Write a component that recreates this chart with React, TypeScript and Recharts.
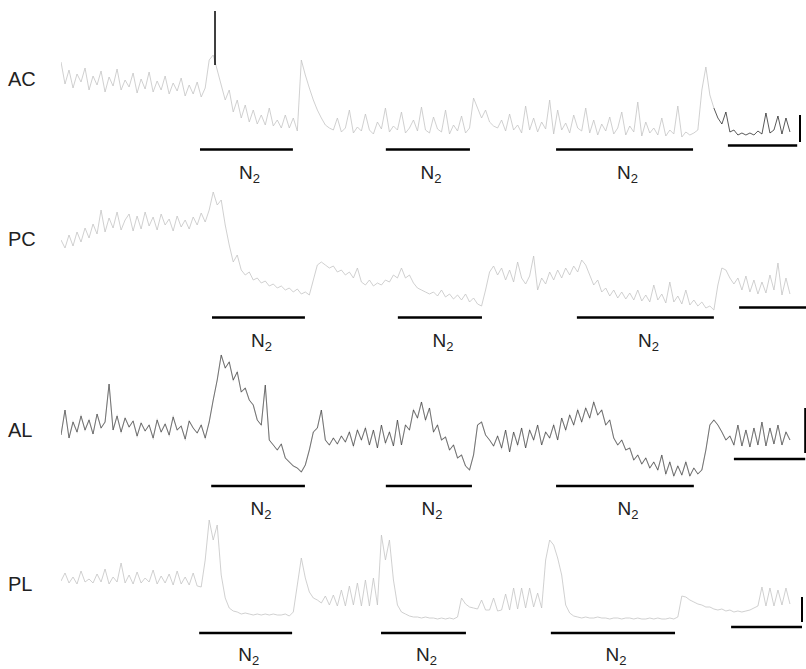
import React from 'react';
import { LineChart, Line, XAxis, YAxis, ReferenceLine } from 'recharts';

// ---- Data (time in sample index units, signal in arbitrary units) ----
const AC_TRACE = [
  118, 96, 110, 92, 106, 98, 112, 90, 104, 95, 109, 88, 103, 94, 111, 90, 100, 93, 107, 87,
  101, 91, 108, 88, 99, 90, 104, 86, 97, 89, 102, 84, 95, 86, 98, 83, 92,
  120, 125, 110, 95, 80, 90, 68, 80, 62, 75, 58, 70, 56, 65, 55, 72, 54, 60, 52, 65, 52, 62, 49,
  120, 105, 92, 80, 70, 62, 55, 52,
  50, 62, 48, 52, 70, 47, 53, 49, 66, 50, 46, 58, 51, 72, 48, 54, 50, 68, 47, 52,
  60, 49, 73, 50, 47, 63, 51, 48, 70, 46, 55, 49, 64, 47,
  52, 82, 72, 62, 70, 58, 54,
  52, 60, 49, 66, 50, 55, 47, 74, 50, 62, 48, 58, 51, 80, 46, 70, 50, 57, 47, 65,
  52, 49, 72, 47, 60, 45, 56, 49, 63, 46, 52, 68, 45, 54, 48, 78, 44, 58, 47, 52,
  45, 62, 44, 50, 46, 74, 43, 48, 45, 47,
  50, 90, 113, 85, 72,
];
const AC_TAIL_START = 163;
const AC_TAIL = [72, 62, 56, 68, 48, 50, 45, 47, 45, 47, 45, 49, 46, 67, 47, 50, 64, 46, 62, 48];
const AC_SPIKE_T = 38.45;
const AC_SPIKE = [115, 169];

const PC_TRACE = [
  110, 102, 115, 104, 118, 108, 122, 112, 126, 116, 140, 118, 132, 122, 138, 120, 130, 136, 119, 134,
  121, 138, 124, 133, 120, 136, 125, 131, 119, 134, 123, 130, 121, 133, 125, 137, 128, 140,
  158, 145, 150, 125, 105, 88, 95, 80, 75, 78, 70, 72, 67, 69, 64, 66, 62, 64, 60, 62, 58, 61, 56, 58, 55,
  70, 85, 88, 85, 82, 84, 78, 80, 75, 78, 72, 82, 68, 65, 70, 64, 67, 65, 70, 68, 75, 72, 82, 72,
  75, 67, 62, 60, 58, 56, 58, 54, 60, 53, 56, 51, 55, 50, 56, 48, 52, 46, 44,
  60, 78, 84, 75, 82, 70, 80, 68, 88, 72, 66, 74, 94, 60, 72, 66, 78, 70, 80, 72,
  82, 75, 84, 78, 90, 85, 75, 65, 70, 58, 62, 54, 60, 52, 58, 51, 57, 50, 60, 49,
  55, 48, 65, 50, 56, 47, 68, 48, 54, 46, 60, 45, 50, 44, 48, 42, 44, 40,
  65, 82, 80, 72, 66, 72, 60, 74, 58, 70, 56, 68, 57, 75, 60, 87, 55, 72, 56,
];

const AL_TRACE = [
  85, 110, 82, 98, 88, 104, 90, 100, 86, 106, 92, 98, 136, 90, 104, 88, 102, 93, 99, 84,
  97, 89, 95, 82, 100, 88, 96, 85, 103, 90, 94, 81, 99, 92, 87, 95, 82, 98,
  120, 140, 165, 152, 158, 140, 148, 128, 132, 120, 115, 100, 95, 135, 80, 75, 70, 76, 62, 58,
  54, 52, 48, 55, 70, 88, 92, 110, 80, 75, 82, 76, 84, 78, 88, 74, 90, 80, 92, 75,
  90, 72, 95, 77, 88, 74, 100, 75,
  95, 90, 110, 102, 118, 100, 112, 88, 95, 80,
  83, 70, 75, 62, 65, 54, 50, 65, 95, 98,
  85, 80, 74, 84, 72, 90, 68, 88, 75, 92,
  72, 90, 80, 95, 75, 88, 82, 95, 80, 102,
  90, 105, 95, 110, 98, 112, 102, 118, 105, 110,
  95, 100, 82, 75, 80, 70, 72, 60, 65, 56,
  62, 52, 58, 50, 65, 46, 58, 44, 54, 45,
  58, 44, 52, 46, 50, 70, 95, 100, 95, 88,
  80, 84, 75, 95, 74, 90, 73, 92, 75, 98,
  74, 92, 76, 95, 75, 88, 80,
];

const PL_TRACE = [
  88, 96, 86, 92, 85, 98, 87, 90, 86, 95, 87, 100, 85, 92, 87, 106, 86, 94, 85, 97,
  86, 91, 87, 99, 85, 93, 86, 95, 84, 98, 85, 92, 84, 96, 83, 82,
  109, 149, 129, 144, 94, 71, 61, 58, 57,
  55, 56, 55, 54, 55, 54, 55, 54, 55, 54, 54, 55, 53,
  57, 84, 111, 91, 77, 71, 69, 66, 73, 64, 74, 63, 79, 63, 83, 64, 86, 63, 89, 63,
  91, 64, 134, 109, 129, 89, 64, 57,
  55, 53, 52, 52, 51, 52, 51, 51, 50, 51, 50, 51, 50,
  52, 71, 65, 62, 61, 60, 69, 59, 59, 71, 58, 59, 75, 59, 81, 60, 81, 61, 81, 62,
  76, 61, 109, 129, 124, 111, 94, 64, 56, 53,
  52, 51, 52, 51, 51, 52, 51, 51, 50, 51, 51, 50, 51, 51, 50, 51, 50, 50, 51, 50,
  51, 50, 50, 51, 50,
  52, 73, 72, 69, 67, 65, 64, 62, 62, 60, 59, 60, 58, 59, 57, 58, 57, 58, 59, 61,
  63, 82, 63, 81, 63, 79, 64, 81, 65,
];

// N2 exposure periods [start, end] in sample units
const N2_AC = [[34.7, 57.9], [81.1, 102.1], [123.6, 157.8]];
const N2_PC = [[37.7, 60.9], [84.1, 105.1], [128.8, 163.0]];
const N2_AL = [[37.5, 60.9], [81.1, 102.6], [123.6, 158.0]];
const N2_PL = [[34.5, 57.7], [79.9, 101.1], [122.3, 153.3]];

const PANEL_NAMES = ['AC', 'PC', 'AL', 'PL'];

// ---- helpers ----
const FONT = '"Liberation Sans", Arial, Helvetica, sans-serif';
const GRAY = '#c4c4c4';
const W = 806;
const X_DOMAIN: [number, number] = [0, 186];

const toPts = (vals: number[], start = 0) => vals.map((v, i) => ({ t: start + i, v }));

const makeN2Label = (offset: number) => (props: any) => {
  const vb = props.viewBox || {};
  const x = (vb.x ?? 0) + (vb.width ?? 0) / 2 + 3;
  const y = (vb.y ?? 0) + offset;
  return (
    <text x={x} y={y} textAnchor="middle" fontFamily={FONT} fontSize={19} fill="#222">
      N<tspan fontSize={13} dy={4}>2</tspan>
    </text>
  );
};

type Trace = { pts: { t: number; v: number }[]; color: string; width: number };

function Panel(props: {
  top: number;
  height: number;
  domain: [number, number];
  traces: Trace[];
  n2: number[][];
  n2Y: number;
  n2Offset: number;
  hbar: [number, number, number];
  vbar?: [number, number, number];
}) {
  const { top, height, domain, traces, n2, n2Y, n2Offset, hbar, vbar } = props;
  const LabelComp = makeN2Label(n2Offset);
  return (
    <div style={{ position: 'absolute', left: 0, top, width: W, height }}>
      <LineChart width={W} height={height} margin={{ top: 0, right: 0, bottom: 0, left: 61 }} style={{ overflow: 'visible' }}>
        <XAxis type="number" dataKey="t" domain={X_DOMAIN} hide allowDataOverflow />
        <YAxis type="number" domain={domain} hide allowDataOverflow />
        {traces.map((tr, i) => (
          <Line
            key={i}
            data={tr.pts}
            dataKey="v"
            type="linear"
            dot={false}
            stroke={tr.color}
            strokeWidth={tr.width}
            isAnimationActive={false}
          />
        ))}
        {n2.map(([a, b], i) => (
          <ReferenceLine
            key={'n2' + i}
            segment={[{ x: a, y: n2Y }, { x: b, y: n2Y }]}
            stroke="#000"
            strokeWidth={2.5}
            ifOverflow="visible"
            label={<LabelComp />}
          />
        ))}
        <ReferenceLine
          segment={[{ x: hbar[0], y: hbar[2] }, { x: hbar[1], y: hbar[2] }]}
          stroke="#000"
          strokeWidth={2.5}
          ifOverflow="visible"
        />
        {vbar && (
          <ReferenceLine
            segment={[{ x: vbar[0], y: vbar[1] }, { x: vbar[0], y: vbar[2] }]}
            stroke="#000"
            strokeWidth={2}
            ifOverflow="visible"
          />
        )}
      </LineChart>
    </div>
  );
}

export default function App() {
  const labelY = [86, 246, 437, 591];
  return (
    <div style={{ position: 'absolute', left: 0, top: 0, width: W, height: 669, background: '#fff', overflow: 'hidden' }}>
      <Panel
        top={0}
        height={190}
        domain={[-10, 180]}
        traces={[
          { pts: toPts(AC_TRACE), color: GRAY, width: 0.8 },
          { pts: toPts(AC_TAIL, AC_TAIL_START), color: '#111', width: 0.7 },
          { pts: AC_SPIKE.map((v) => ({ t: AC_SPIKE_T, v })), color: '#000', width: 1.5 },
        ]}
        n2={N2_AC}
        n2Y={30.5}
        n2Offset={29}
        hbar={[166.5, 183.8, 34.5]}
        vbar={[184.5, 65, 38]}
      />
      <Panel
        top={180}
        height={175}
        domain={[-5, 170]}
        traces={[{ pts: toPts(PC_TRACE), color: GRAY, width: 0.8 }]}
        n2={N2_PC}
        n2Y={32.5}
        n2Offset={29}
        hbar={[169.3, 186, 42.5]}
      />
      <Panel
        top={340}
        height={185}
        domain={[-5, 180]}
        traces={[
          { pts: toPts(AL_TRACE), color: '#bdbdbd', width: 1.1 },
          { pts: toPts(AL_TRACE), color: '#1a1a1a', width: 0.45 },
        ]}
        n2={N2_AL}
        n2Y={34}
        n2Offset={29}
        hbar={[168, 185.8, 61]}
        vbar={[185.8, 112, 67]}
      />
      <Panel
        top={510}
        height={159}
        domain={[0, 159]}
        traces={[{ pts: toPts(PL_TRACE), color: GRAY, width: 0.8 }]}
        n2={N2_PL}
        n2Y={36}
        n2Offset={28}
        hbar={[167.3, 185, 42]}
        vbar={[185, 72, 47]}
      />
      <svg width={W} height={669} style={{ position: 'absolute', left: 0, top: 0, pointerEvents: 'none' }}>
        {PANEL_NAMES.map((n, i) => (
          <text key={n} x={8} y={labelY[i]} fontFamily={FONT} fontSize={20} fill="#222">
            {n}
          </text>
        ))}
      </svg>
    </div>
  );
}
